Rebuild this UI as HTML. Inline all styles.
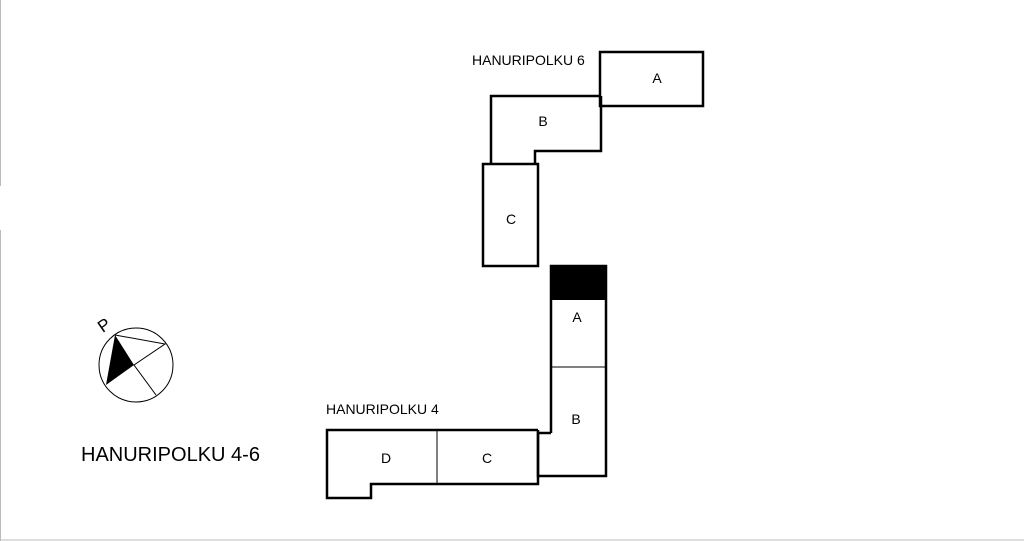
<!DOCTYPE html>
<html><head><style>
body{margin:0;background:#fff;}
svg{display:block}
</style></head><body>
<svg width="1024" height="541" viewBox="0 0 1024 541" xmlns="http://www.w3.org/2000/svg">
<rect width="1024" height="541" fill="#fff"/>
<line x1="0.5" y1="0" x2="0.5" y2="186" stroke="#bbb"/>
<line x1="0.5" y1="230" x2="0.5" y2="541" stroke="#bbb"/>
<line x1="0" y1="540" x2="1024" y2="540" stroke="#bbb"/>
<g fill="none" stroke="#000" stroke-width="2.5">
<rect x="600" y="52" width="103" height="54"/>
<polyline points="601,96 491,96 491,164"/>
<polyline points="601,96 601,151 535,151 535,164"/>
<rect x="483" y="164" width="55" height="102"/>
<polyline points="551,433 551,266 606,266 606,476 538,476 538,433 551,433"/>
<polyline points="538,430 327,430 327,498 371,498 371,484 538,484 538,430"/>
</g>
<line x1="491" y1="164" x2="535" y2="164" stroke="#000" stroke-width="1"/>
<rect x="551" y="265" width="56" height="35" fill="#000"/>
<line x1="551" y1="367" x2="606" y2="367" stroke="#000" stroke-width="1"/>
<line x1="437" y1="430" x2="437" y2="484" stroke="#000" stroke-width="1"/>
<g font-family="Liberation Sans, sans-serif" font-size="14" fill="#000" text-anchor="middle">
<text x="657" y="83">A</text>
<text x="543" y="126">B</text>
<text x="511" y="224">C</text>
<text x="577" y="322">A</text>
<text x="576" y="424">B</text>
<text x="487" y="463">C</text>
<text x="386" y="463">D</text>
</g>
<g font-family="Liberation Sans, sans-serif" font-size="14" fill="#000">
<text x="472" y="65">HANURIPOLKU 6</text>
<text x="326" y="414">HANURIPOLKU 4</text>
<text x="81" y="461" font-size="20">HANURIPOLKU 4-6</text>
</g>
<circle cx="136" cy="365" r="37" fill="none" stroke="#000" stroke-width="1"/>
<polygon points="115,335 134,365 106,385" fill="#000"/>
<polyline points="115,335 165,344 134,365 156,395" fill="none" stroke="#000" stroke-width="1"/>
<text x="104" y="331" font-family="Liberation Sans, sans-serif" font-size="17" transform="rotate(-35 104 325)" text-anchor="middle">P</text>
</svg>
</body></html>
